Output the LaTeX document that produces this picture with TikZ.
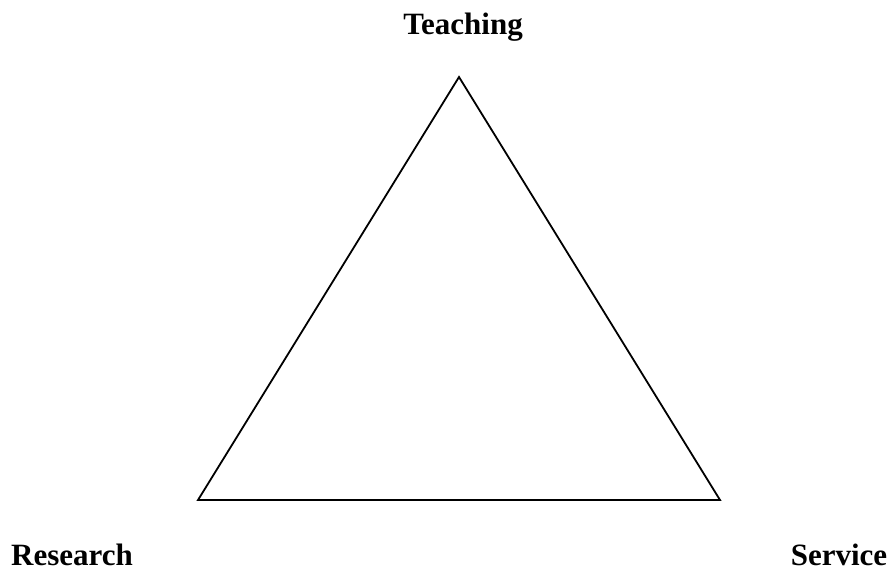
\documentclass[tikz,border=0pt]{standalone}
\usepackage{fontspec}
\setmainfont{Liberation Serif}
\begin{document}
\begin{tikzpicture}[x=1pt,y=-1pt,
  lbl/.style={font=\fontsize{31}{36}\selectfont\bfseries, anchor=base, inner sep=0pt},
  edge/.style={line width=1.8pt, line join=miter}]
\useasboundingbox (0,0) rectangle (888,571);
\coordinate (t) at (459,77);
\coordinate (l) at (198,500);
\coordinate (r) at (720,500);
\draw[edge] (t) -- (l) -- (r) -- cycle;
\node[lbl] (teach) at (463,34) {Teaching};
\node[lbl] (res) at (72,565) {Research};
\node[lbl] (serv) at (839,565) {Service};
\end{tikzpicture}
\end{document}
